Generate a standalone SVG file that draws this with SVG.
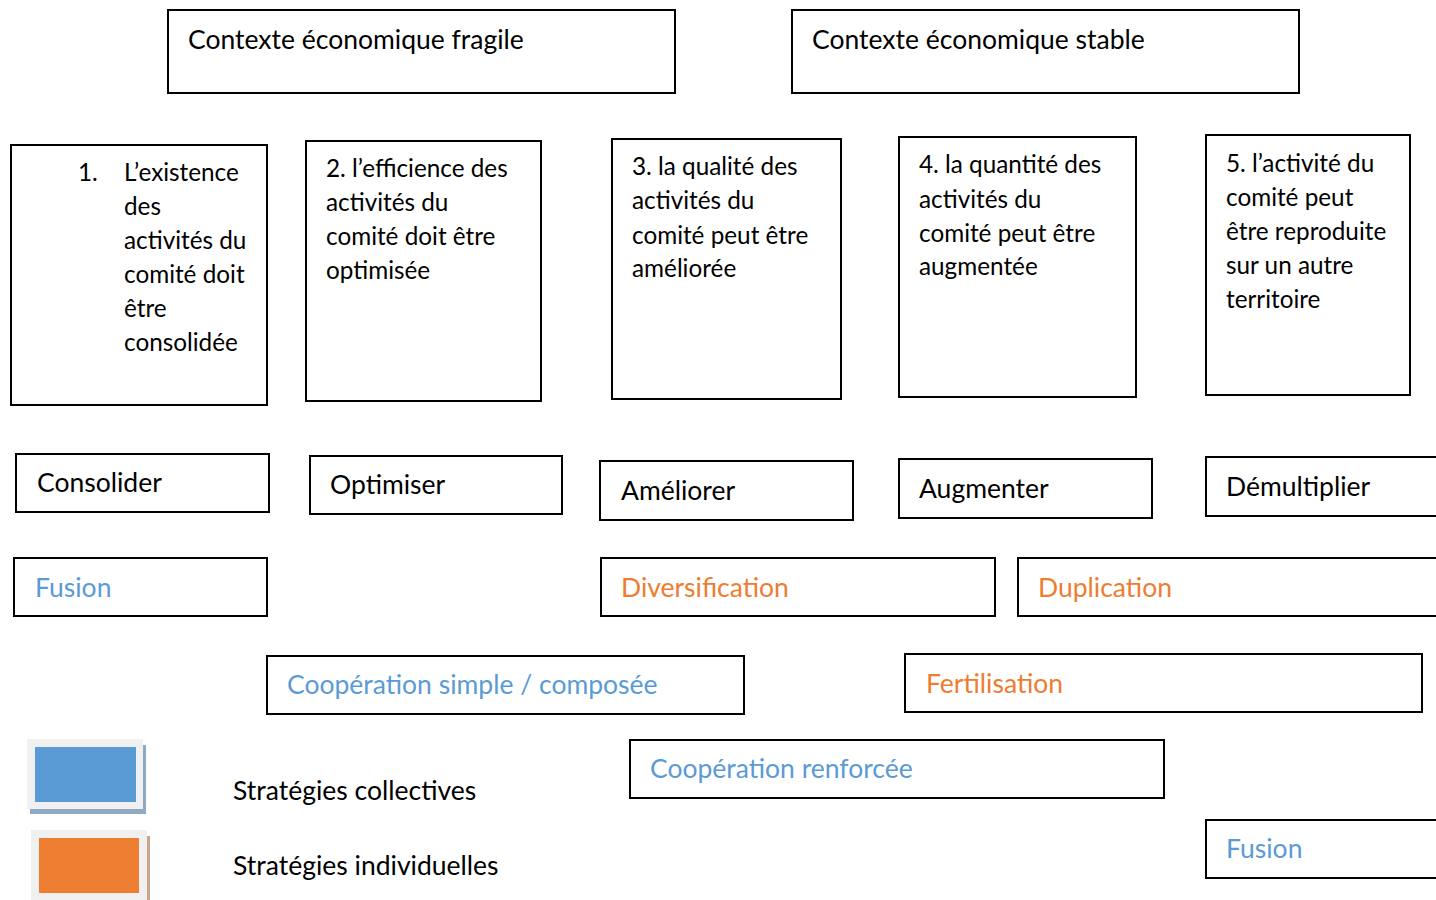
<svg xmlns="http://www.w3.org/2000/svg" width="1436" height="900" viewBox="0 0 1436 900">
<style>
.box{fill:#fff;stroke:#000;stroke-width:2}
text{font-family:Lato,"Liberation Sans",sans-serif;font-size:26.5px;fill:#000}
.sm{font-size:24.3px}
.blue{fill:#5B9BD5}
.orange{fill:#ED7D31}
</style>
<rect width="1436" height="900" fill="#fff"/>
<g id="ctx-fragile"><rect class="box" x="168" y="10" width="507" height="83"/><text x="188" y="49">Contexte économique fragile</text></g>
<g id="ctx-stable"><rect class="box" x="792" y="10" width="507" height="83"/><text x="812" y="49">Contexte économique stable</text></g>

<g id="c1"><rect class="box" x="11" y="145" width="256" height="260"/>
<text class="sm" x="78" y="181">1.</text>
<text class="sm" x="124" y="181">L’existence</text>
<text class="sm" x="124" y="215">des</text>
<text class="sm" x="124" y="249">activités du</text>
<text class="sm" x="124" y="283">comité doit</text>
<text class="sm" x="124" y="317">être</text>
<text class="sm" x="124" y="351">consolidée</text></g>
<g id="c2"><rect class="box" x="306" y="141" width="235" height="260"/>
<text class="sm" x="326" y="177">2. l’efficience des</text>
<text class="sm" x="326" y="211">activités du</text>
<text class="sm" x="326" y="245">comité doit être</text>
<text class="sm" x="326" y="279">optimisée</text></g>
<g id="c3"><rect class="box" x="612" y="139" width="229" height="260"/>
<text class="sm" x="632" y="175">3. la qualité des</text>
<text class="sm" x="632" y="209">activités du</text>
<text class="sm" x="632" y="244">comité peut être</text>
<text class="sm" x="632" y="277">améliorée</text></g>
<g id="c4"><rect class="box" x="899" y="137" width="237" height="260"/>
<text class="sm" x="919" y="173">4. la quantité des</text>
<text class="sm" x="919" y="208">activités du</text>
<text class="sm" x="919" y="242">comité peut être</text>
<text class="sm" x="919" y="275">augmentée</text></g>
<g id="c5"><rect class="box" x="1206" y="135" width="204" height="260"/>
<text class="sm" x="1226" y="172">5. l’activité du</text>
<text class="sm" x="1226" y="206">comité peut</text>
<text class="sm" x="1226" y="240">être reproduite</text>
<text class="sm" x="1226" y="274">sur un autre</text>
<text class="sm" x="1226" y="308">territoire</text></g>

<g id="consolider"><rect class="box" x="16" y="454" width="253" height="58"/><text x="37" y="492">Consolider</text></g>
<g id="optimiser"><rect class="box" x="310" y="456" width="252" height="58"/><text x="330" y="494">Optimiser</text></g>
<g id="ameliorer"><rect class="box" x="600" y="461" width="253" height="59"/><text x="621" y="500">Améliorer</text></g>
<g id="augmenter"><rect class="box" x="899" y="459" width="253" height="59"/><text x="919" y="498">Augmenter</text></g>
<g id="demultiplier"><rect class="box" x="1206" y="457" width="240" height="59"/><text x="1226" y="496">Démultiplier</text></g>

<g id="fusion1"><rect class="box" x="14" y="558" width="253" height="58"/><text class="blue" x="35" y="597">Fusion</text></g>
<g id="diversification"><rect class="box" x="601" y="558" width="394" height="58"/><text class="orange" x="621" y="597">Diversification</text></g>
<g id="duplication"><rect class="box" x="1018" y="558" width="430" height="58"/><text class="orange" x="1038" y="597">Duplication</text></g>

<g id="coop-simple"><rect class="box" x="267" y="656" width="477" height="58"/><text class="blue" x="287" y="694">Coopération simple / composée</text></g>
<g id="fertilisation"><rect class="box" x="905" y="654" width="517" height="58"/><text class="orange" x="926" y="693">Fertilisation</text></g>
<g id="coop-renforcee"><rect class="box" x="630" y="740" width="534" height="58"/><text class="blue" x="650" y="778">Coopération renforcée</text></g>
<g id="fusion2"><rect class="box" x="1206" y="820" width="240" height="58"/><text class="blue" x="1226" y="858">Fusion</text></g>

<g id="legend-collectives">
<path d="M30 745 H146 V814 H30 Z" fill="#8FA9C2"/>
<rect x="27" y="739" width="116" height="70" fill="#F0F0F0"/>
<rect x="35" y="747" width="101" height="55" fill="#5B9BD5"/>
<text x="233" y="800">Stratégies collectives</text></g>
<g id="legend-individuelles">
<rect x="147" y="836" width="3" height="64" fill="#C9A58A"/>
<rect x="31" y="830" width="116" height="70" fill="#F0F0F0"/>
<rect x="39" y="838" width="100" height="55" fill="#ED7D31"/>
<text x="233" y="875">Stratégies individuelles</text></g>
<g id="connectors"></g>
</svg>
